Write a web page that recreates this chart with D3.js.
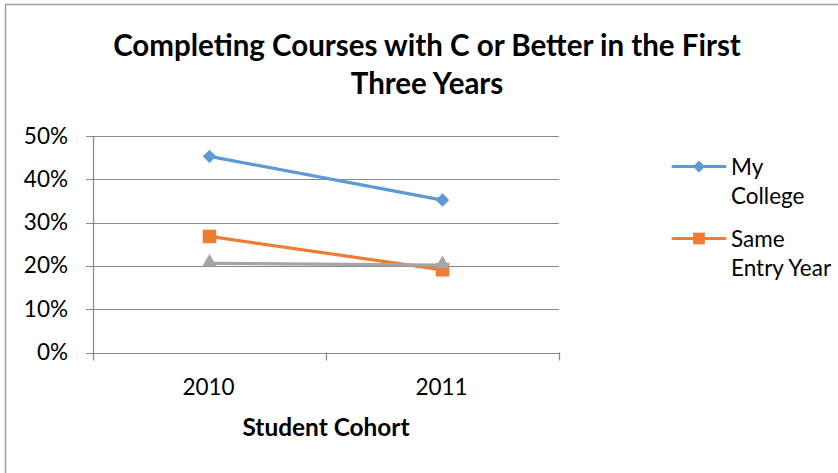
<!DOCTYPE html>
<html>
<head>
<meta charset="utf-8">
<script src="https://cdn.jsdelivr.net/npm/d3@7"></script>
<style>
  html, body { margin: 0; padding: 0; background: #fff; }
  svg { display: block; }
  text { font-family: Lato, "Open Sans", "Liberation Sans", sans-serif; fill: #000; }
</style>
</head>
<body>
<svg id="chart" width="838" height="473"></svg>
<script>
// ---- data ----
const titleLines = ["Completing Courses with C or Better in the First", "Three Years"];
const xAxisTitle = "Student Cohort";
const categories = ["2010", "2011"];
const seriesNames = ["My College", "Same Entry Year", "Series3"];
const myCollege = [0.453, 0.352];
const sameEntryYear = [0.268, 0.191];
const series3 = [0.206, 0.202];
const yTicks = [0, 0.1, 0.2, 0.3, 0.4, 0.5];
const legendLines = [["My", "College"], ["Same", "Entry Year"]];

const colors = ["#5B9BD5", "#ED7D31", "#A5A5A5"];
const symbols = [d3.symbolDiamond2, d3.symbolSquare2, d3.symbolTriangle2];
const seriesValues = [myCollege, sameEntryYear, series3];

const svg = d3.select("#chart");

// chart border
svg.append("rect")
  .attr("x", 5.5).attr("y", 4.5)
  .attr("width", 900).attr("height", 600)
  .attr("fill", "none").attr("stroke", "#a0a0a0").attr("stroke-width", 1.5);

const plot = { left: 93, right: 559, top: 136, bottom: 352.5 };

const x = d3.scaleBand().domain(categories).range([plot.left, plot.right]);
const y = d3.scaleLinear().domain([0, 0.5]).range([plot.bottom, plot.top]);

const axisColor = "#898989";

// gridlines + y ticks
const g = svg.append("g");
g.selectAll("line.grid").data(yTicks).join("line")
  .attr("class", "grid")
  .attr("x1", plot.left - 7).attr("x2", plot.right)
  .attr("y1", d => Math.round(y(d)) + 0.5).attr("y2", d => Math.round(y(d)) + 0.5)
  .attr("stroke", axisColor).attr("stroke-width", 1.2);

// y axis line
g.append("line")
  .attr("x1", plot.left + 0.5).attr("x2", plot.left + 0.5)
  .attr("y1", plot.top).attr("y2", plot.bottom + 8)
  .attr("stroke", axisColor).attr("stroke-width", 1.2);

// x ticks at band edges
const xEdges = [plot.left, ...categories.map(c => x(c) + x.bandwidth())];
g.selectAll("line.xt").data(xEdges.slice(1)).join("line")
  .attr("class", "xt")
  .attr("x1", d => Math.round(d) + 0.5).attr("x2", d => Math.round(d) + 0.5)
  .attr("y1", plot.bottom).attr("y2", plot.bottom + 8)
  .attr("stroke", axisColor).attr("stroke-width", 1.2);

// y tick labels
g.selectAll("text.yl").data(yTicks).join("text")
  .attr("class", "yl")
  .attr("x", 68).attr("y", d => y(d) + 7.5)
  .attr("text-anchor", "end")
  .style("font-size", "22.5px")
  .text(d => d3.format(".0%")(d));

// x tick labels
g.selectAll("text.xl").data(categories).join("text")
  .attr("class", "xl")
  .attr("x", d => x(d) + x.bandwidth() / 2 - 1).attr("y", 395)
  .attr("text-anchor", "middle")
  .style("font-size", "22.5px")
  .text(d => d);

function fitWidth(sel, target) {
  const node = sel.node();
  const fs = parseFloat(sel.style("font-size"));
  const w = node.getComputedTextLength();
  sel.style("font-size", (fs * target / w).toFixed(2) + "px");
}

// x axis title
const xt = svg.append("text")
  .attr("x", 326).attr("y", 436)
  .attr("text-anchor", "middle")
  .style("font-size", "22px").style("font-weight", "bold")
  .text(xAxisTitle);
fitWidth(xt, 167);

// title
const t1 = svg.append("text")
  .attr("x", 427).attr("y", 56)
  .attr("text-anchor", "middle")
  .style("font-size", "28px").style("font-weight", "bold")
  .text(titleLines[0]);
fitWidth(t1, 628);
svg.append("text")
  .attr("x", 427).attr("y", 94)
  .attr("text-anchor", "middle")
  .style("font-size", t1.style("font-size")).style("font-weight", "bold")
  .text(titleLines[1]);

// series
const line = d3.line().x((d, i) => x(categories[i]) + x.bandwidth() / 2).y(d => y(d));
const symSizes = [115, 232, 155];
seriesValues.forEach((vals, si) => {
  svg.append("path")
    .attr("d", line(vals))
    .attr("fill", "none").attr("stroke", colors[si])
    .attr("stroke-width", 3.2).attr("stroke-linejoin", "round").attr("stroke-linecap", "round");
  svg.selectAll(null).data(vals).join("path")
    .attr("transform", (d, i) => `translate(${x(categories[i]) + x.bandwidth() / 2},${y(d) + (si === 2 ? -1 : 0)})`)
    .attr("d", d3.symbol().type(symbols[si]).size(symSizes[si]))
    .attr("fill", colors[si]);
});

// legend (first two series)
const legY = [166.5, 238.5];
const legSizes = [90, 175];
legendLines.forEach((lines, i) => {
  const lg = svg.append("g");
  lg.append("line")
    .attr("x1", 673).attr("x2", 725).attr("y1", legY[i]).attr("y2", legY[i])
    .attr("stroke", colors[i]).attr("stroke-width", 3.2).attr("stroke-linecap", "round");
  lg.append("path")
    .attr("transform", `translate(699,${legY[i]})`)
    .attr("d", d3.symbol().type(symbols[i]).size(legSizes[i]))
    .attr("fill", colors[i]);
  lines.forEach((s, j) => {
    lg.append("text")
      .attr("x", 731).attr("y", legY[i] + 8 + j * 29.5)
      .style("font-size", "22.5px")
      .text(s);
  });
});
</script>
</body>
</html>
